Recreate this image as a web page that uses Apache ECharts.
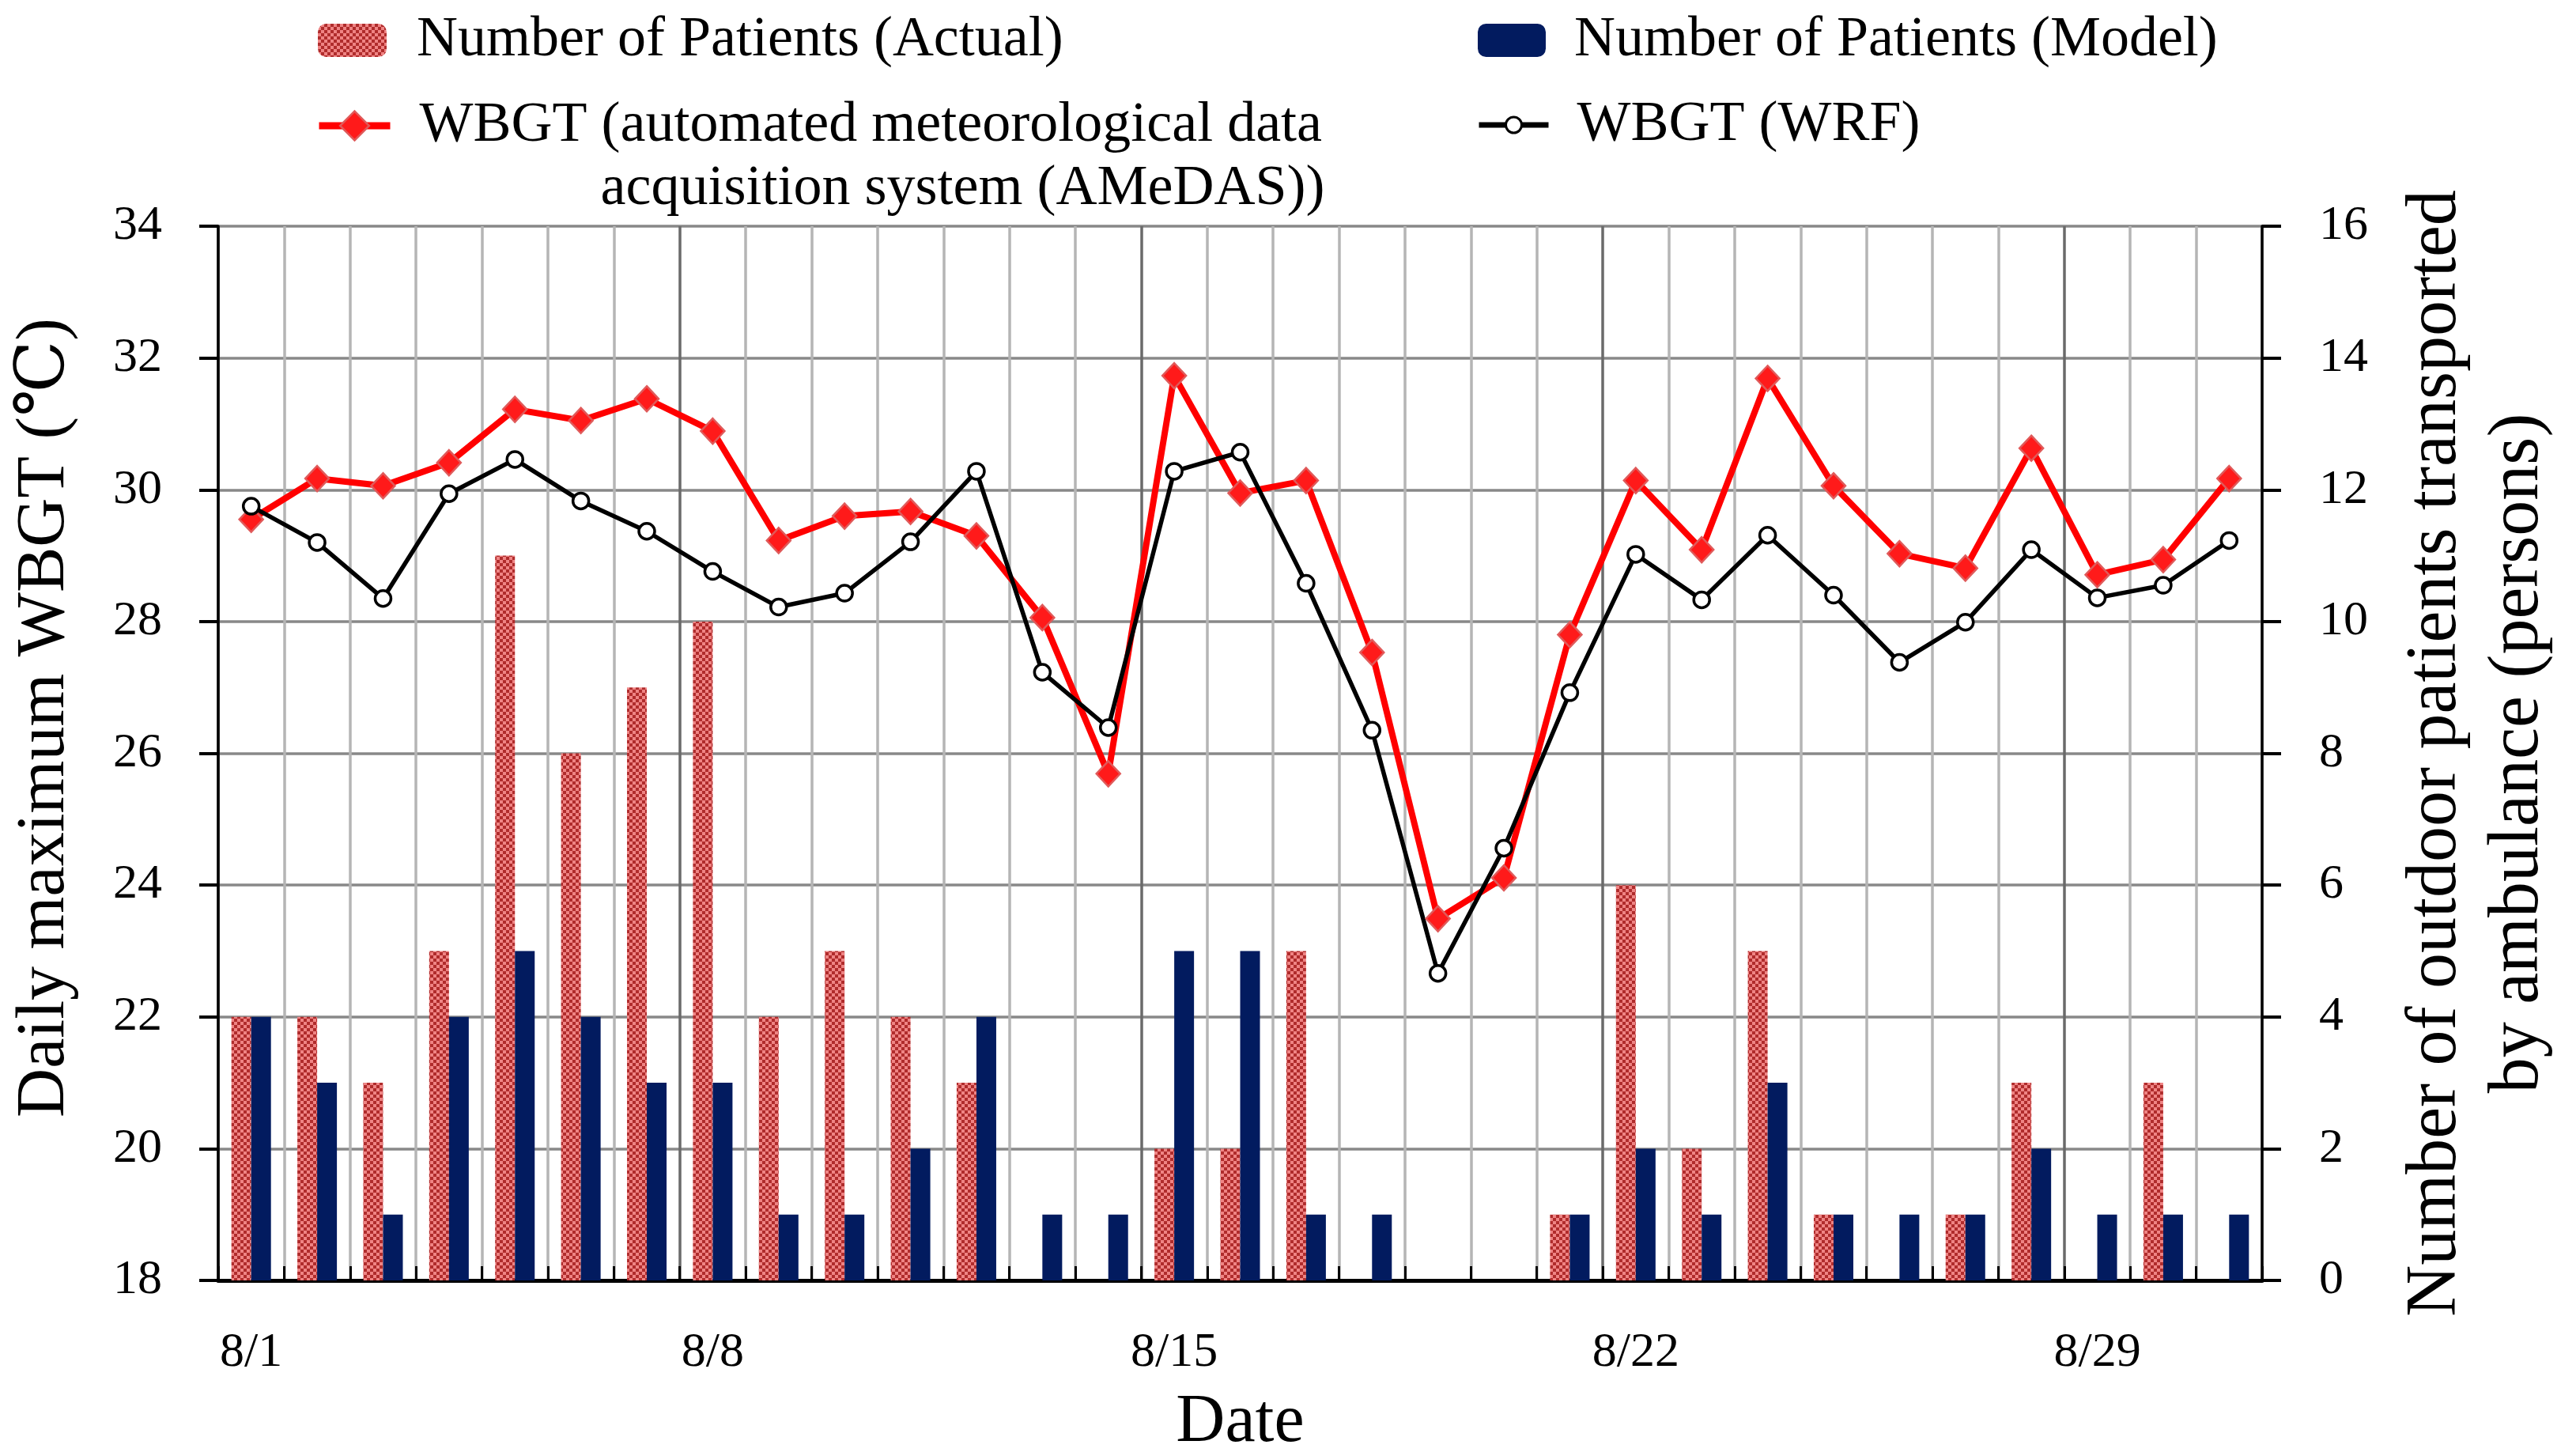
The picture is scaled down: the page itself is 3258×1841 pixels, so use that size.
<!DOCTYPE html>
<html><head><meta charset="utf-8">
<script src="https://cdn.jsdelivr.net/npm/echarts@6/dist/echarts.min.js"></script>
<style>html,body{margin:0;padding:0;background:#fff}#c{width:3258px;height:1841px}</style>
</head><body><div id="c"></div>
<script>
const categories = ['8/1','8/2','8/3','8/4','8/5','8/6','8/7','8/8','8/9','8/10','8/11','8/12','8/13','8/14','8/15','8/16','8/17','8/18','8/19','8/20','8/21','8/22','8/23','8/24','8/25','8/26','8/27','8/28','8/29','8/30','8/31'];
const xTickLabels = ['8/1','8/8','8/15','8/22','8/29'];
const patientsActual = [4,4,3,5,11,8,9,10,4,5,4,3,0,0,2,2,5,0,0,0,1,6,2,5,1,0,1,3,0,3,0];
const patientsModel = [4,3,1,4,5,4,3,3,1,1,2,4,1,1,5,5,1,1,0,0,1,2,1,3,1,1,1,2,1,1,1];
const wbgtAmedas = [29.55,30.17,30.06,30.41,31.22,31.05,31.38,30.89,29.23,29.60,29.67,29.30,28.06,25.69,31.73,29.95,30.14,27.53,23.49,24.11,27.80,30.14,29.09,31.69,30.06,29.03,28.81,30.63,28.71,28.94,30.17];
const wbgtWrf = [29.75,29.20,28.35,29.94,30.46,29.83,29.37,28.76,28.22,28.43,29.21,30.28,27.23,26.39,30.28,30.57,28.58,26.35,22.66,24.56,26.92,29.02,28.33,29.31,28.40,27.38,27.99,29.09,28.36,28.55,29.23];
const leftAxisRange = [18, 34];
const rightAxisRange = [0, 16];

const NAME_ACTUAL = 'Number of Patients (Actual)';
const NAME_MODEL = 'Number of Patients (Model)';
const NAME_AMEDAS = 'WBGT (automated meteorological data acquisition system (AMeDAS))';
const NAME_WRF = 'WBGT (WRF)';

const FONT = '"Liberation Serif", "Times New Roman", "DejaVu Serif", serif';

function makePattern() {
  const c = document.createElement('canvas');
  c.width = 8; c.height = 8;
  const g = c.getContext('2d');
  g.fillStyle = '#ef8484'; g.fillRect(0, 0, 8, 8);
  g.fillStyle = '#b02c2c'; g.fillRect(0, 0, 4, 4); g.fillRect(4, 4, 4, 4);
  return c;
}
const checker = { image: makePattern(), repeat: 'repeat' };

const legendText = { fontFamily: FONT, fontSize: 72, color: '#000' };

const chart = echarts.init(document.getElementById('c'), null, { renderer: 'canvas' });
chart.setOption({
  animation: false,
  backgroundColor: '#fff',
  grid: { left: 276, right: 397, top: 286, bottom: 222, containLabel: false, outerBoundsMode: 'none' },
  legend: [
    { data: [NAME_ACTUAL], left: 402, top: 15, padding: 0, itemWidth: 87, itemHeight: 42, selectedMode: false,
      textStyle: Object.assign({}, legendText, { lineHeight: 72, padding: [0, 0, 0, 33] }) },
    { data: [NAME_MODEL], left: 1869, top: 15, padding: 0, itemWidth: 86, itemHeight: 42, selectedMode: false,
      textStyle: Object.assign({}, legendText, { lineHeight: 72, padding: [0, 0, 0, 31] }) },
    { data: [NAME_AMEDAS], left: 399, top: 39, padding: 0, itemWidth: 90, itemHeight: 46, selectedMode: false,
      lineStyle: { width: 9 }, itemStyle: { borderWidth: 2.5 },
      formatter: function () { return '\u00a0\nWBGT (automated meteorological data\n{p|\u00a0}acquisition system (AMeDAS))'; },
      textStyle: Object.assign({}, legendText, { lineHeight: 80, padding: [0, 0, 0, 32],
        rich: { p: { width: 229, fontSize: 72, lineHeight: 80, fontFamily: FONT } } }) },
    { data: [NAME_WRF], left: 1867, top: 118, padding: 0, itemWidth: 88, itemHeight: 25, selectedMode: false,
      lineStyle: { width: 7 }, itemStyle: { borderWidth: 3 },
      textStyle: Object.assign({}, legendText, { lineHeight: 80, padding: [0, 0, 0, 31] }) }
  ],
  xAxis: {
    type: 'category',
    data: categories,
    boundaryGap: true,
    name: 'Date',
    nameLocation: 'middle',
    nameGap: 137,
    nameMoveOverlap: false,
    nameTextStyle: { fontFamily: FONT, fontSize: 86, color: '#000' },
    axisLine: { show: true, lineStyle: { color: '#000', width: 5 } },
    axisTick: { show: true, inside: true, length: 18, interval: 0, lineStyle: { color: '#000', width: 3 } },
    axisLabel: {
      interval: function (idx, val) { return xTickLabels.indexOf(val) >= 0; },
      margin: 61, fontFamily: FONT, fontSize: 62, color: '#000'
    },
    splitLine: { show: true, interval: 0, lineStyle: { width: 3.5, color: ['#6a6a6a', '#b5b5b5', '#b5b5b5', '#b5b5b5', '#b5b5b5', '#b5b5b5', '#b5b5b5'] } }
  },
  yAxis: [
    {
      type: 'value', position: 'left', min: leftAxisRange[0], max: leftAxisRange[1], interval: 2,
      name: 'Daily maximum WBGT (\u2103)', nameLocation: 'middle', nameRotate: 90, nameGap: 176, nameMoveOverlap: false,
      nameTextStyle: { fontFamily: FONT, fontSize: 86, color: '#000', padding: [0, 0, 0, 90] },
      axisLine: { show: true, lineStyle: { color: '#000', width: 3.5 } },
      axisTick: { show: true, inside: false, length: 24, lineStyle: { color: '#000', width: 4 } },
      axisLabel: { margin: 71, fontFamily: FONT, fontSize: 62, color: '#000' },
      splitLine: { show: true, lineStyle: { color: '#888888', width: 3.5 } }
    },
    {
      type: 'value', position: 'right', min: rightAxisRange[0], max: rightAxisRange[1], interval: 2,
      name: 'Number of outdoor patients transported\nby ambulance (persons)', nameLocation: 'middle', nameRotate: 90, nameGap: 168, nameMoveOverlap: false,
      nameTextStyle: { fontFamily: FONT, fontSize: 90, color: '#000', lineHeight: 104 },
      axisLine: { show: true, lineStyle: { color: '#000', width: 3.5 } },
      axisTick: { show: true, inside: false, length: 24, lineStyle: { color: '#000', width: 4 } },
      axisLabel: { margin: 72, fontFamily: FONT, fontSize: 62, color: '#000' },
      splitLine: { show: false }
    }
  ],
  series: [
    { name: NAME_ACTUAL, type: 'bar', yAxisIndex: 1, data: patientsActual, barWidth: '30%', barGap: '0%',
      itemStyle: { color: checker } },
    { name: NAME_MODEL, type: 'bar', yAxisIndex: 1, data: patientsModel, barWidth: '30%', barGap: '0%',
      itemStyle: { color: '#021b5f' } },
    { name: NAME_AMEDAS, type: 'line', yAxisIndex: 0, data: wbgtAmedas, symbol: 'diamond', symbolSize: [30, 32],
      lineStyle: { color: '#ff0000', width: 8 },
      itemStyle: { color: '#ff1a1a', borderColor: '#e05a5a', borderWidth: 2.5 } },
    { name: NAME_WRF, type: 'line', yAxisIndex: 0, data: wbgtWrf, symbol: 'circle', symbolSize: 20,
      lineStyle: { color: '#000', width: 5.5 },
      itemStyle: { color: '#fff', borderColor: '#000', borderWidth: 3.5 } }
  ]
});
</script>
</body></html>
